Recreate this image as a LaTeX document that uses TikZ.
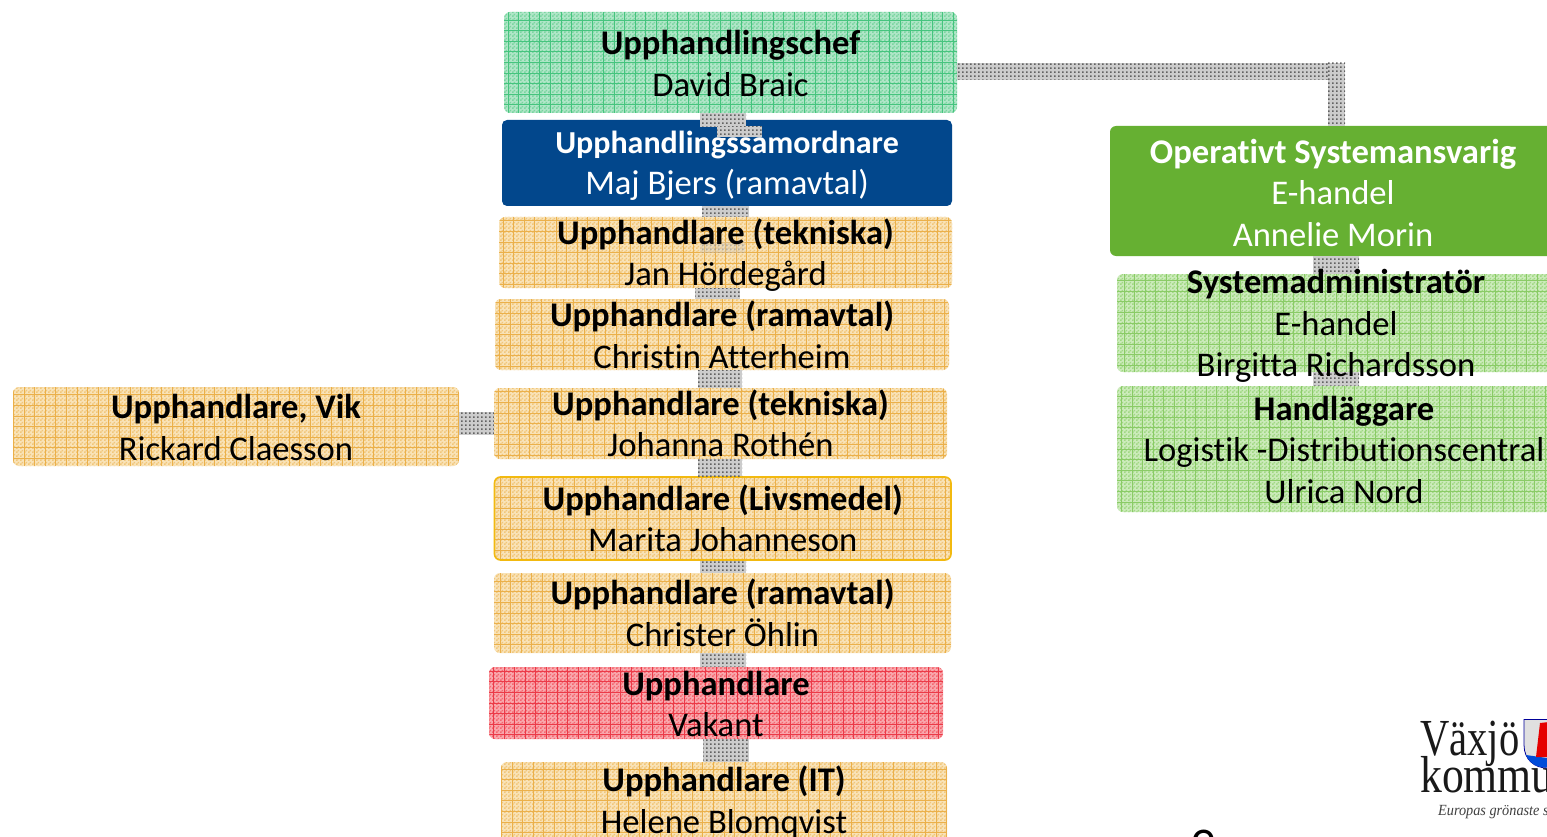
\documentclass[tikz,border=0pt]{standalone}
\usepackage{fontspec}
\usetikzlibrary{patterns}
\setmainfont[Ligatures=NoCommon]{Carlito}
\newfontfamily\logofont{Liberation Serif}
\definecolor{cgreen}{HTML}{B0E6C8}
\definecolor{cgreenm}{HTML}{7AD5A0}
\definecolor{cgreenl}{HTML}{45C47E}
\definecolor{cblue}{HTML}{02478C}
\definecolor{corange}{HTML}{F9E3B8}
\definecolor{corangem}{HTML}{F1C67A}
\definecolor{corangel}{HTML}{EBB04A}
\definecolor{cred}{HTML}{F9A8AD}
\definecolor{credm}{HTML}{F46770}
\definecolor{credl}{HTML}{EB3A48}
\definecolor{copgreen}{HTML}{66B032}
\definecolor{clgreen}{HTML}{CCEBBB}
\definecolor{clgreenm}{HTML}{A0D883}
\definecolor{clgreenl}{HTML}{8ACB66}
\definecolor{cborder}{HTML}{F2B90F}
\pgfdeclarepatternformonly{chk}{\pgfpointorigin}{\pgfqpoint{4pt}{4pt}}{\pgfqpoint{4pt}{4pt}}{%
  \pgfpathrectangle{\pgfqpoint{0pt}{0pt}}{\pgfqpoint{2pt}{2pt}}%
  \pgfpathrectangle{\pgfqpoint{2pt}{2pt}}{\pgfqpoint{2pt}{2pt}}%
  \pgfusepath{fill}}
\pgfdeclarepatternformonly{mesh}{\pgfpointorigin}{\pgfqpoint{3.6pt}{3.6pt}}{\pgfqpoint{3.6pt}{3.6pt}}{%
  \pgfpathrectangle{\pgfqpoint{0pt}{0pt}}{\pgfqpoint{1.8pt}{1.8pt}}%
  \pgfusepath{fill}}
\tikzset{
  x=1pt,y=-1pt,
  boxbase/.style={rounded corners=6pt,inner sep=0pt},
  gridded/.style={path picture={
      \draw[#1,line width=0.8pt]
      ([xshift=-0.3pt,yshift=0.3pt]path picture bounding box.south west)
      grid[step=10.6pt]
      (path picture bounding box.north east);}},
  greenbox/.style={boxbase,preaction={fill=cgreen},pattern=chk,pattern color=cgreenm,gridded=cgreenl},
  orangebox/.style={boxbase,preaction={fill=corange},pattern=chk,pattern color=corangem,gridded=corangel},
  redbox/.style={boxbase,preaction={fill=cred},pattern=chk,pattern color=credm,gridded=credl},
  lgreenbox/.style={boxbase,preaction={fill=clgreen},pattern=chk,pattern color=clgreenm,gridded=clgreenl},
  boxlabel/.style={inner sep=0pt,align=center,font=\fontsize{34.6}{41.5}\selectfont},
  connline/.style={line width=#1,draw=black!20},
  connmesh/.style={pattern=mesh,pattern color=black!62},
}
\newcommand{\hd}[1]{\textbf{#1}}
% box: name, left, top, right, bottom, style
\newcommand{\bx}[6]{%
  \node[#6,minimum width=#4pt-#2pt,minimum height=#5pt-#3pt] (#1)
    at ({(#2+#4)/2},{(#3+#5)/2}) {};}
% text over a box: name, box, vertical offset, options, text
\newcommand{\tx}[5]{%
  \node[boxlabel,#4] (#1) at ([shift={(0,#3)}]#2.center) {#5};}
% vertical connector from a to b: x centre, width, a, b, upward shift of each end
\newcommand{\vconn}[6]{%
  \coordinate (p) at ([yshift=#5pt]#3.south -| #1,0);
  \coordinate (q) at ([yshift=#6pt]#4.north -| #1,0);
  \draw[connline=#2pt] (p) -- (q);
  \path[connmesh] ([xshift=-#2pt/2]p) rectangle ([xshift=#2pt/2]q);}
\begin{document}
\begin{tikzpicture}
\useasboundingbox (0,0) rectangle (1547,837);
\clip (0,0) rectangle (1547,837);
\fill[white] (0,0) rectangle (1547,837);
% boxes
\bx{chef}{504}{12}{957}{113}{greenbox}
\bx{samord}{502}{120}{952}{206}{boxbase,fill=cblue,rounded corners=5pt}
\bx{oper}{1110}{126}{1556}{256}{boxbase,fill=copgreen}
\bx{tekA}{499}{217}{952}{288}{orangebox}
\bx{ramA}{495}{299}{949}{370}{orangebox}
\bx{tekB}{494}{388}{947}{459}{orangebox}
\bx{liv}{494.5}{477}{951}{560}{orangebox,draw=cborder,line width=1.6pt}
\bx{ramB}{494}{573}{951}{653}{orangebox}
\bx{vak}{489}{667}{943}{739}{redbox}
\bx{it}{501}{762}{947}{882}{orangebox}
\bx{vik}{13}{387}{459}{466}{orangebox}
\bx{sys}{1117}{274}{1555}{372}{lgreenbox}
\bx{hand}{1117}{386}{1571}{512}{lgreenbox}
% connectors
\vconn{723}{46}{chef}{samord}{0}{-7}
\vconn{739.5}{45}{samord}{samord}{80}{-17}
\coordinate (c1) at (chef.east |- 0,71.5);
\coordinate (c2) at (oper.north -| 1336.5,0);
\draw[connline=17pt] (c1) -- (c1 -| c2) -- (c2);
\path[connmesh] ([yshift=8.5pt]c1) rectangle ([yshift=-8.5pt]c1 -| 1328,0);
\path[connmesh] (1328,62.5) rectangle ([xshift=8.5pt]c2);
\vconn{725.5}{47}{samord}{tekA}{0}{0}
\begin{scope}[opacity=.35]
\vconn{722.5}{45}{tekA}{tekA}{46}{-36}
\end{scope}
\vconn{717.5}{45}{tekA}{ramA}{0}{0}
\vconn{720}{44}{ramA}{tekB}{0}{0}
\vconn{720}{44}{tekB}{liv}{0}{0}
\vconn{723}{46}{liv}{ramB}{0}{0}
\vconn{723}{46}{ramB}{vak}{0}{0}
\vconn{726}{46}{vak}{it}{0}{0}
\coordinate (h1) at (vik.east |- 0,423.5);
\coordinate (h2) at (tekB.west |- 0,423.5);
\draw[connline=23pt] (h1) -- (h2);
\path[connmesh] ([yshift=11.5pt]h1) rectangle ([yshift=-11.5pt]h2);
\vconn{1336}{46}{oper}{sys}{0}{0}
\vconn{1336}{46}{sys}{hand}{0}{0}
% texts
\tx{chefT}{chef}{1}{}{\hd{Upphandlingschef}\\David Braic}
\tx{samordT}{samord}{2.5}{text=white}{{\fontsize{32}{40}\selectfont\hd{Upphandlingssamordnare}}\\[-1pt]Maj Bjers (ramavtal)}
\tx{operT}{oper}{1.5}{text=white}{\hd{Operativt Systemansvarig}\\E-handel\\Annelie Morin}
\tx{tekAT}{tekA}{2.5}{}{\hd{Upphandlare (tekniska)}\\Jan Hördegård}
\tx{ramAT}{ramA}{0.5}{}{\hd{Upphandlare (ramavtal)}\\Christin Atterheim}
\tx{tekBT}{tekB}{0}{}{\hd{Upphandlare (tekniska)}\\Johanna Rothén}
\tx{livT}{liv}{0}{}{\hd{Upphandlare (Livsmedel)}\\Marita Johanneson}
\tx{ramBT}{ramB}{0}{}{\hd{Upphandlare (ramavtal)}\\Christer Öhlin}
\tx{vakT}{vak}{1}{}{\hd{Upphandlare}\\Vakant}
\tx{itT}{it}{-19.5}{}{\hd{Upphandlare (IT)}\\Helene Blomqvist}
\tx{vikT}{vik}{1}{}{\hd{Upphandlare, Vik}\\Rickard Claesson}
\tx{sysT}{sys}{3}{}{\hd{Systemadministratör}\\E-handel\\Birgitta Richardsson}
\tx{handT}{hand}{0.5}{}{\hd{Handläggare}\\Logistik -Distributionscentral\\Ulrica Nord}
% logo
\node[font=\logofont\fontsize{52}{52}\selectfont,text=black!90,anchor=base west,inner sep=0pt] (lg1) at (1420,755) {\scalebox{.78}[1]{Växjö}};
\node[font=\logofont\fontsize{52}{52}\selectfont,text=black!90,anchor=base west,inner sep=0pt] (lg2) at (1420,792) {\scalebox{.84}[1]{kommun}};
\node[font=\logofont\itshape\fontsize{15.5}{15.5}\selectfont,text=black!75,anchor=base west,inner sep=0pt] (lg3) at (1438,815) {\scalebox{.92}[1]{Europas grönaste stad}};
\path[draw=blue!60!black,line width=0.8pt,fill=black!12] (1524,719.5) -- (1570,719.5) -- (1570,750) .. controls (1570,762) and (1555,768) .. (1547,768) .. controls (1535,768) and (1524,760) .. (1524,745) -- cycle;
\fill[blue!65!cyan!85!black] (1526,755) .. controls (1531,766) and (1540,767.5) .. (1547,767.5) -- (1570,767.5) -- (1570,757) -- (1547,758) -- cycle;
\fill[red!90!black] (1540,723) -- (1549,722) -- (1549,757) -- (1536,757) -- (1538,740) -- cycle;
\node[font=\fontsize{50}{50}\selectfont,anchor=base,inner sep=0pt] (pg) at (1203,862) {9};
\end{tikzpicture}
\end{document}
